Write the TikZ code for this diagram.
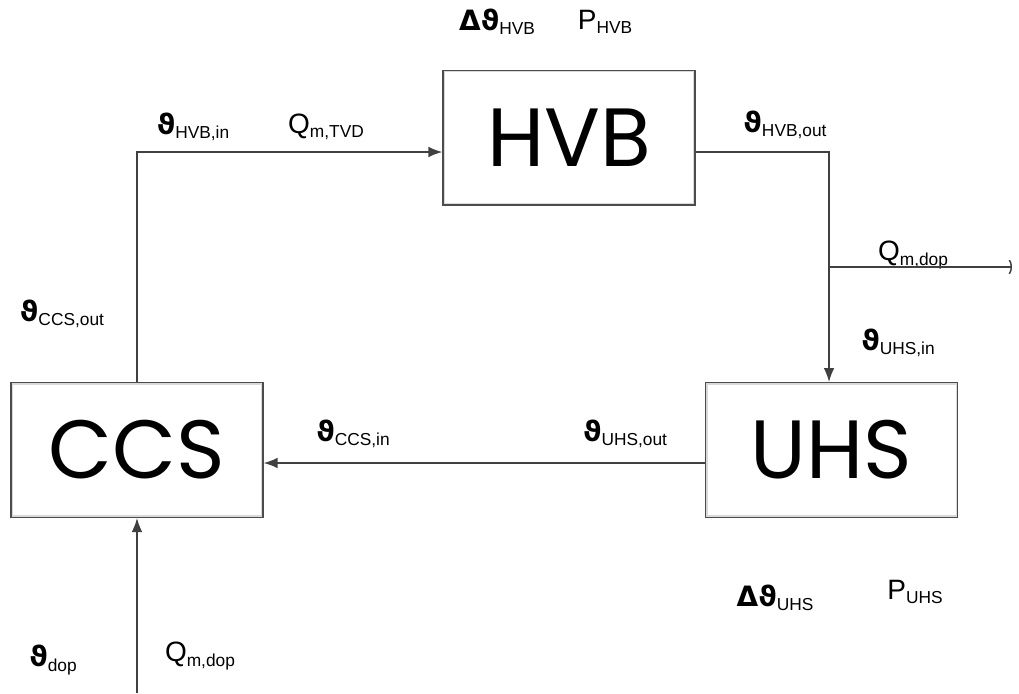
\documentclass[tikz,border=0pt]{standalone}
\usepackage{fontspec}
\setmainfont{Liberation Sans}
\newfontfamily\symfont{DejaVu Sans}
\newfontfamily\boxfont{Poppins}
\usetikzlibrary{positioning}
\usetikzlibrary{calc}
\usetikzlibrary{arrows.meta}
\newcommand{\sym}[2]{{\symfont\bfseries #1}\raisebox{-0.3ex}{\fontsize{13}{13}\selectfont #2}}
\newcommand{\qm}[2]{#1\raisebox{-0.3ex}{\fontsize{13}{13}\selectfont #2}}
\tikzset{
  box/.style            = { rectangle, minimum width=189pt, minimum height=101pt },
  border/.style         = { line width=1pt, draw=black!70 },
  inner/.style          = { path picture={\draw [black!15, line width=3pt]
                              (path picture bounding box.south west) rectangle
                              (path picture bounding box.north east);} },
}
\tikzset{
  block/.style={
    box,
    border,
    inner,
    font=\boxfont\fontsize{62}{62}\selectfont
  },
  tag/.style            = { font=\fontsize{21}{25}\selectfont, inner sep=0pt },
  pipe/.style           = { line width=1.1pt, draw=black!75 },
  flow/.style           = { pipe, -{Latex[length=10.5pt,width=8pt]} },
  drain/.style          = { pipe, -{Parenthesis[length=3.5pt,width=13pt]} }
}
\begin{document}
\begin{tikzpicture}[x=0.75pt, y=-0.75pt]
  \useasboundingbox (0,0) rectangle (1019,693);
  \node (hvb) [block] at (569,137.5) {HVB};
  \node (ccs) [block] at (137,450)   {CCS};
  \node (uhs) [block] at (831.5,450) {UHS};

  \node (dthvb)  [tag] at (497,22)  {\sym{Δϑ}{HVB}};
  \node (phvb)   [tag] at (605,22)  {\qm{P}{HVB}};
  \node (thvbin) [tag] at (193,127) {\sym{ϑ}{HVB,in}};
  \node (qtvd)   [tag] at (326,127) {\qm{Q}{m,TVD}};
  \node (thvbo)  [tag] at (785,125) {\sym{ϑ}{HVB,out}};
  \node (qdopo)  [tag] at (913,255) {\qm{Q}{m,dop}};
  \node (tuhsin) [tag] at (898,343) {\sym{ϑ}{UHS,in}};
  \node (tccso)  [tag] at (62,314)  {\sym{ϑ}{CCS,out}};
  \node (tccsin) [tag] at (353,434) {\sym{ϑ}{CCS,in}};
  \node (tuhso)  [tag] at (625,434) {\sym{ϑ}{UHS,out}};
  \node (dtuhs)  [tag] at (775,598) {\sym{Δϑ}{UHS}};
  \node (puhs)   [tag] at (915,592) {\qm{P}{UHS}};
  \node (tdop)   [tag] at (53,660)  {\sym{ϑ}{dop}};
  \node (qdopi)  [tag] at (200,656) {\qm{Q}{m,dop}};

  \coordinate (split)  at ($(uhs.north)+(-2.5,-115)$);
  \coordinate (dopout) at ($(split)+(183,0)$);
  \coordinate (dopin)  at (137,693);

  \draw [flow]  (ccs.north) |- ($(hvb.west)+(0,14.5)$);
  \draw [flow]  ($(hvb.east)+(0,14.5)$) -| ($(uhs.north)+(-2.5,0)$);
  \draw [drain] (split) -- (dopout);
  \draw [flow]  ($(uhs.west)+(0,13)$) -- ($(ccs.east)+(0,13)$);
  \draw [flow]  (dopin) -- (ccs.south);
\end{tikzpicture}
\end{document}
